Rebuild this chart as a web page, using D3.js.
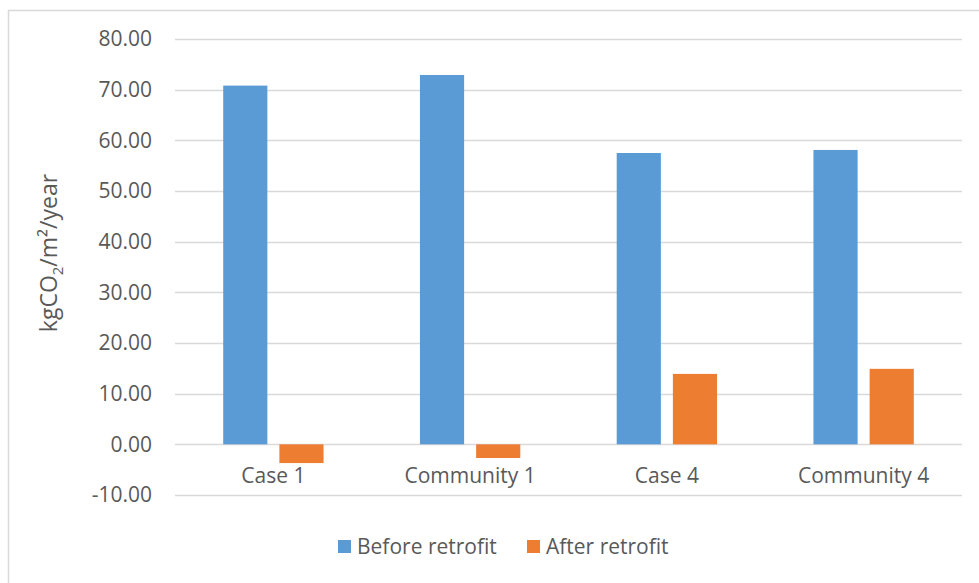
<!DOCTYPE html>
<html>
<head>
<meta charset="utf-8">
<script src="https://cdn.jsdelivr.net/npm/d3@7"></script>
<style>
  body { margin: 0; background: #fff; }
  svg { display: block; font-family: "Open Sans", "Noto Sans", sans-serif; }
</style>
</head>
<body>
<svg id="chart" width="979" height="583"></svg>
<script>
// Datos del gráfico
const categories = ['Case 1', 'Community 1', 'Case 4', 'Community 4'];
const seriesNames = ['Before retrofit', 'After retrofit'];
const beforeValues = [70.8, 72.9, 57.5, 58.1];
const afterValues = [-3.7, -2.7, 13.9, 14.9];
const yTicks = [-10, 0, 10, 20, 30, 40, 50, 60, 70, 80];

const colors = { 'Before retrofit': '#5B9BD5', 'After retrofit': '#ED7D31' };
const textColor = '#595959';
const gridColor = '#D9D9D9';

const svg = d3.select('#chart');

// Borde del área del gráfico
svg.append('rect')
    .attr('x', 8.5)
    .attr('y', 10.5)
    .attr('width', 1000)
    .attr('height', 600)
    .attr('fill', 'none')
    .attr('stroke', gridColor)
    .attr('stroke-width', 1.5);

const plot = { left: 175, right: 962, top: 39, bottom: 495 };

const x0 = d3.scaleBand()
    .domain(categories)
    .range([plot.left, plot.right])
    .paddingInner(0.49)
    .paddingOuter(0.245);

const x1 = d3.scaleBand()
    .domain(seriesNames)
    .range([0, x0.bandwidth()])
    .paddingInner(0.214);

const y = d3.scaleLinear()
    .domain([-10, 80])
    .range([plot.bottom, plot.top]);

// Líneas de cuadrícula
svg.append('g')
    .selectAll('line')
    .data(yTicks)
    .join('line')
    .attr('x1', plot.left)
    .attr('x2', plot.right)
    .attr('y1', d => Math.round(y(d)) + 0.5)
    .attr('y2', d => Math.round(y(d)) + 0.5)
    .attr('stroke', gridColor)
    .attr('stroke-width', 1.5);

// Etiquetas del eje Y
const yAxis = svg.append('g')
    .attr('transform', `translate(${plot.left - 23},0)`)
    .call(d3.axisLeft(y).tickValues(yTicks).tickFormat(d => d.toFixed(2)).tickSize(0).tickPadding(0));
yAxis.select('.domain').remove();
yAxis.selectAll('text')
    .attr('fill', textColor)
    .attr('font-size', '21px')
    .attr('font-family', '"Open Sans", sans-serif');

// Barras
const rows = categories.map((c, i) => ({
    category: c,
    values: [
        { series: 'Before retrofit', value: beforeValues[i] },
        { series: 'After retrofit', value: afterValues[i] }
    ]
}));

svg.append('g')
    .selectAll('g')
    .data(rows)
    .join('g')
    .attr('transform', d => `translate(${x0(d.category)},0)`)
    .selectAll('rect')
    .data(d => d.values)
    .join('rect')
    .attr('x', d => x1(d.series))
    .attr('width', x1.bandwidth())
    .attr('y', d => y(Math.max(0, d.value)))
    .attr('height', d => Math.abs(y(d.value) - y(0)))
    .attr('fill', d => colors[d.series]);

// Etiquetas de categorías
svg.append('g')
    .selectAll('text')
    .data(categories)
    .join('text')
    .attr('x', d => x0(d) + x0.bandwidth() / 2)
    .attr('y', 483)
    .attr('text-anchor', 'middle')
    .attr('fill', textColor)
    .attr('font-size', '21px')
    .text(d => d);

// Título del eje Y
const yTitle = svg.append('text')
    .attr('transform', 'translate(57,253) rotate(-90)')
    .attr('text-anchor', 'middle')
    .attr('fill', textColor)
    .attr('font-size', '23px');
yTitle.append('tspan').text('kgCO');
yTitle.append('tspan').attr('font-size', '15px').attr('dy', 6).text('2');
yTitle.append('tspan').attr('dy', -6).text('/m²/year');

// Leyenda
const legendItems = [
    { name: 'Before retrofit', x: 338 },
    { name: 'After retrofit', x: 527 }
];
const legend = svg.append('g');
legend.selectAll('rect')
    .data(legendItems)
    .join('rect')
    .attr('x', d => d.x)
    .attr('y', 540)
    .attr('width', 13)
    .attr('height', 13)
    .attr('fill', d => colors[d.name]);
legend.selectAll('text')
    .data(legendItems)
    .join('text')
    .attr('x', d => d.x + 19)
    .attr('y', 554)
    .attr('fill', textColor)
    .attr('font-size', '21px')
    .text(d => d.name);
</script>
</body>
</html>
